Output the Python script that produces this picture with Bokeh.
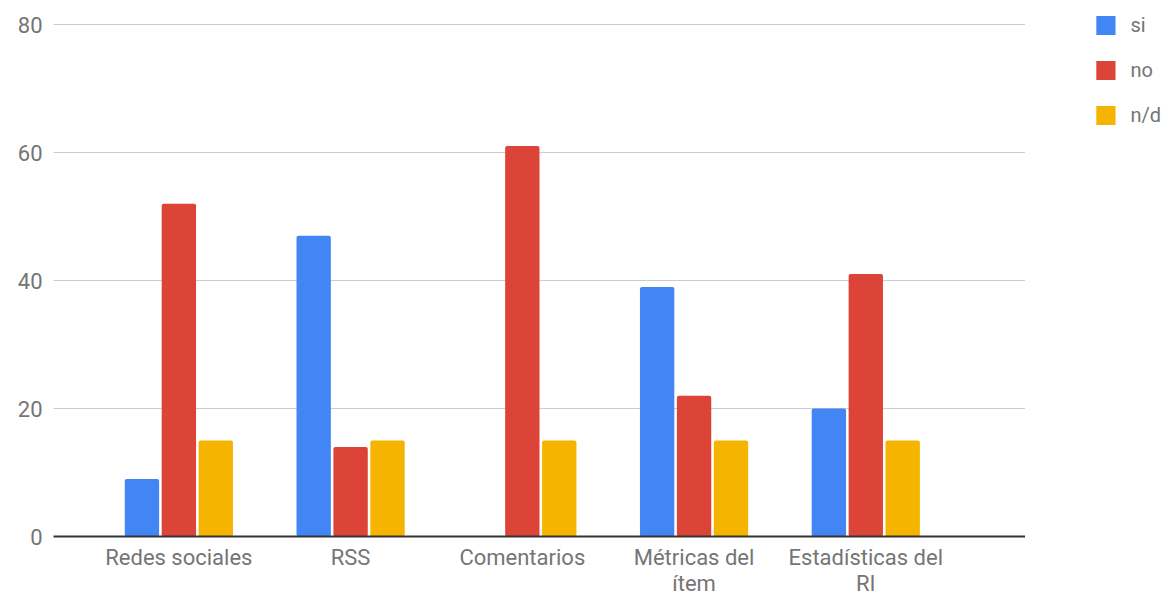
import numpy as np
from bokeh.plotting import figure
from bokeh.layouts import row
from bokeh.models import ColumnDataSource, Range1d, FixedTicker, Legend, LegendItem
from bokeh.transform import dodge
from bokeh.embed import file_html
from bokeh.resources import INLINE

categories = ["Redes sociales", "RSS", "Comentarios", "Métricas del\nítem", "Estadísticas del\nRI"]
series_names = ["si", "no", "n/d"]
si_values = [9, 47, 0, 39, 20]
no_values = [52, 14, 61, 22, 41]
nd_values = [15, 15, 15, 15, 15]
y_ticks = [0, 20, 40, 60, 80]
colors = ["#4285F4", "#DB4437", "#F4B400"]

xs = np.arange(len(categories))
src = ColumnDataSource(dict(x=xs, si=si_values, no=no_values, nd=nd_values))
keys = ["si", "no", "nd"]
offsets = [-0.215, 0.0, 0.215]

p = figure(frame_width=972, frame_height=513, output_backend="svg", toolbar_location=None,
           x_range=Range1d(-0.73, 4.93), y_range=Range1d(0, 80.16),
           min_border_left=53, min_border_top=23, min_border_bottom=59, min_border_right=0)
p.outline_line_color = None
p.frame_align = False

for key, off, col in zip(keys, offsets, colors):
    p.vbar(x=dodge("x", off), top=key, width=0.2, source=src, fill_color=col,
           line_color=None, border_radius=2)

p.xaxis.ticker = FixedTicker(ticks=list(xs))
p.xaxis.major_label_overrides = {int(i): c for i, c in zip(xs, categories)}
p.yaxis.ticker = FixedTicker(ticks=y_ticks)

for ax in [p.xaxis[0], p.yaxis[0]]:
    ax.major_tick_line_color = None
    ax.minor_tick_line_color = None
    ax.major_tick_out = 0
    ax.major_label_text_font = "Roboto"
    ax.major_label_text_font_size = "22px"
    ax.major_label_text_color = "#757575"
    ax.major_label_text_line_height = 1.05
p.yaxis.axis_line_color = None
p.yaxis.major_label_standoff = 11
p.xaxis.axis_line_color = "#333333"
p.xaxis.axis_line_width = 2
p.xaxis.major_label_standoff = 8

p.xgrid.grid_line_color = None
p.ygrid.grid_line_color = "#CCCCCC"
p.ygrid.grid_line_width = 1

# legend panel (series drawn fully out of view so the legend keys use real glyphs)
lg = figure(width=149, height=595, output_backend="svg", toolbar_location=None,
            x_range=Range1d(50, 51), y_range=Range1d(100, 101),
            min_border=0, min_border_left=0, min_border_right=0, min_border_top=0, min_border_bottom=0)
lg.frame_align = False
lg.axis.visible = False
lg.grid.visible = False
lg.outline_line_color = None
keyglyphs = [lg.vbar(x="x", top=key, width=0.2, source=src, fill_color=c, line_color=None)
             for key, c in zip(keys, colors)]
legend = Legend(items=[LegendItem(label=n, renderers=[r]) for n, r in zip(series_names, keyglyphs)],
                location="top_right", border_line_color=None, background_fill_alpha=0,
                glyph_width=24, glyph_height=24,
                label_text_font="Roboto", label_text_font_size="20px", label_text_color="#757575",
                spacing=21, padding=0, margin=13, label_standoff=13)
lg.add_layout(legend, "center")

layout = row(p, lg, spacing=0)
open("out.html", "w").write(file_html(layout, INLINE))
